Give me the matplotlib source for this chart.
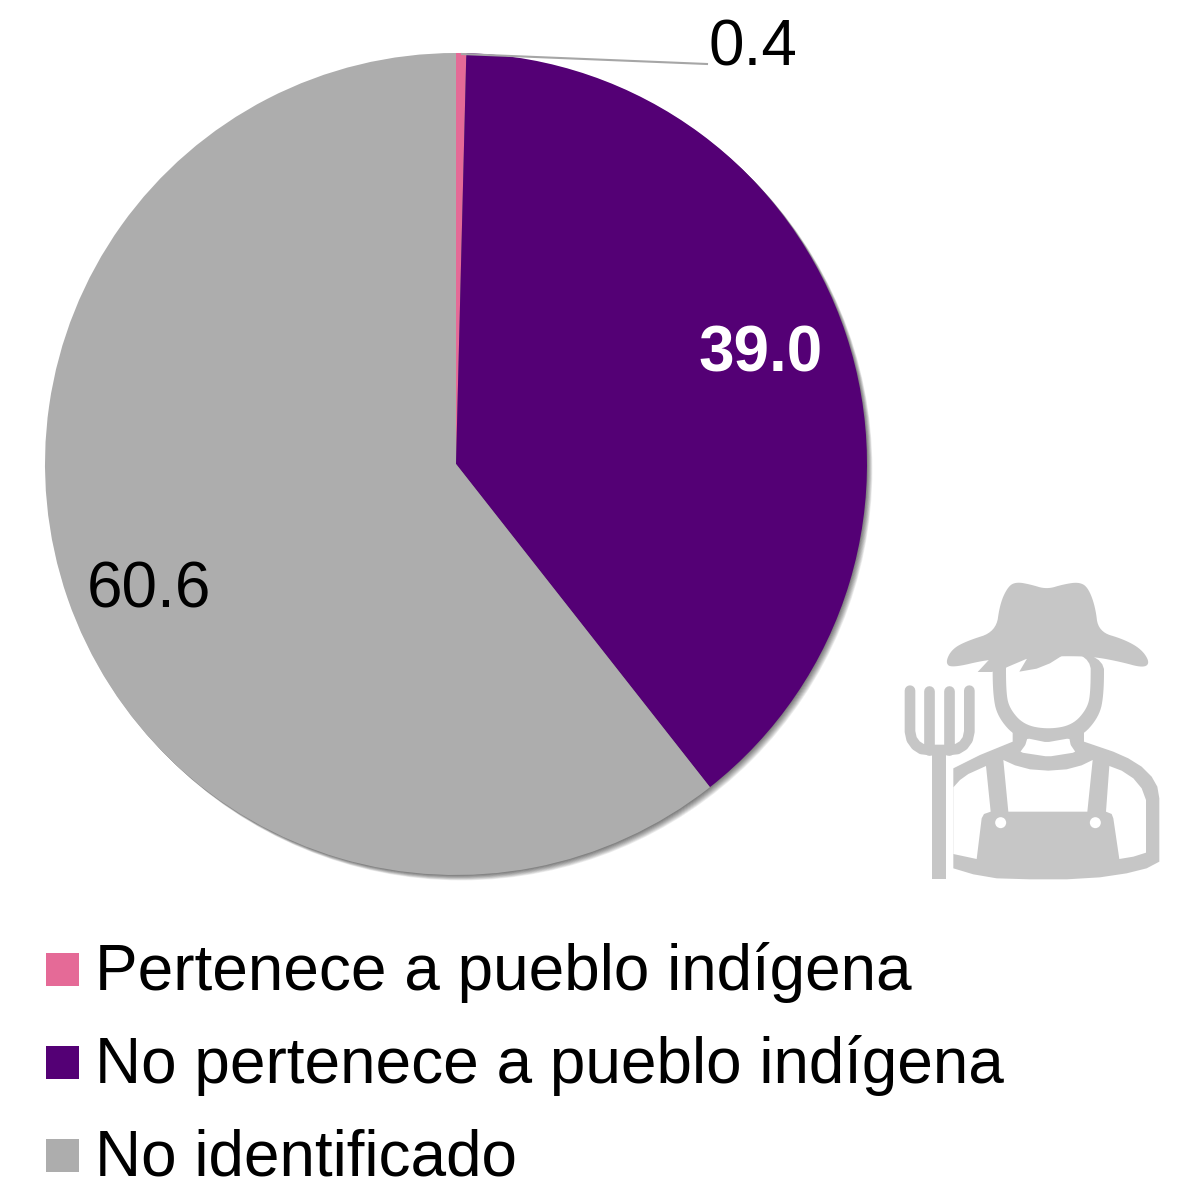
import matplotlib
matplotlib.use('Agg')
import matplotlib.pyplot as plt
from matplotlib.patches import Circle, PathPatch, Polygon
from matplotlib.path import Path

plt.rcParams['font.family'] = ['Liberation Sans', 'DejaVu Sans']

W, H = 1184, 1182

categories = ['Pertenece a pueblo indígena', 'No pertenece a pueblo indígena', 'No identificado']
values = [0.4, 39.0, 60.6]
value_labels = ['0.4', '39.0', '60.6']
colors = ['#E56A97', '#540075', '#ADADAD']
ICON = '#C6C6C6'

fig = plt.figure(figsize=(W / 100, H / 100), dpi=100, facecolor='white')
ax = fig.add_axes([0, 0, 1, 1])


def py(y):
    return H - y


cx, cy, radius = 456, py(464), 411

# soft shadow, lower right
for i in range(9):
    off = 0.6 + i * 0.6
    ax.add_patch(Circle((cx + off, cy - off), radius, fc='#000000', ec='none', alpha=0.07, zorder=1))

wedges, _ = ax.pie(values, colors=colors, startangle=90, counterclock=False, center=(cx, cy),
                   radius=radius, frame=True, wedgeprops={'edgecolor': 'none'})
for w in wedges:
    w.set_zorder(2)
ax.set_xlim(0, W)
ax.set_ylim(0, H)
ax.set_aspect('equal')
ax.axis('off')

# leader line of the small slice
ax.plot([462, 707], [py(54), py(64)], color='#A6A6A6', lw=1.5, zorder=3)

FS = 46
ax.text(753, py(65), value_labels[0], fontsize=FS, ha='center', va='baseline', color='black', zorder=4)
ax.text(761, py(372), value_labels[1], fontsize=FS, ha='center', va='baseline', color='white',
        fontweight='bold', zorder=4)
ax.text(149, py(608), value_labels[2], fontsize=FS, ha='center', va='baseline', color='black', zorder=4)

leg = ax.legend(wedges, categories, loc='upper left', bbox_to_anchor=(46 / W, 1 - 942 / H),
                bbox_transform=ax.transAxes, frameon=False, fontsize=FS, handlelength=0.516,
                handleheight=0.416, handletextpad=0.25, labelspacing=0.505, borderpad=0, borderaxespad=0)
for p in leg.get_patches():
    p.set_y(p.get_y() - 1.7)


def ic(points):
    return [(880 + x / 3, py(560 + y / 3)) for x, y in points]


def chaikin(points, n=2, cut=0.15):
    for _ in range(n):
        out = []
        for i in range(len(points)):
            a, b = points[i], points[(i + 1) % len(points)]
            out.append((a[0] * (1 - cut) + b[0] * cut, a[1] * (1 - cut) + b[1] * cut))
            out.append((a[0] * cut + b[0] * (1 - cut), a[1] * cut + b[1] * (1 - cut)))
        points = out
    return points


def shape(points, color=ICON, z=5, n=0, cut=0.25):
    pts = chaikin(ic(points), n, cut)
    ax.add_patch(Polygon(pts, closed=True, fc=color, ec='none', zorder=z))


def stroke(points, width):
    verts = ic(points)
    codes = [Path.MOVETO] + [Path.LINETO] * (len(verts) - 1)
    ax.add_patch(PathPatch(Path(verts, codes), fc='none', ec=ICON, lw=width / 3 * 0.72,
                           capstyle='round', joinstyle='round', zorder=5))


body = [(220, 625), (300, 585), (398, 545), (398, 500), (612, 500), (612, 545), (700, 575), (745, 595),
        (785, 620), (815, 650), (832, 680), (838, 715), (838, 905), (800, 925), (740, 940), (660, 952),
        (560, 958), (450, 958), (350, 955), (280, 943), (220, 925)]
shape(body)

# head: outer and inner outline, the top corners sit under the hat
head_out = [(338, 270), (338, 400), (352, 470), (410, 535), (505, 550), (600, 535), (658, 470), (672, 400),
            (672, 270)]
head_in = [(378, 270), (378, 395), (388, 445), (432, 495), (505, 508), (578, 495), (622, 445), (632, 395),
           (632, 270)]
shape(head_out, ICON, 5, 3)
shape(head_in, 'white', 6, 3)
neck = [(442, 535), (500, 547), (568, 535), (572, 555), (587, 577), (505, 590), (420, 577), (436, 555)]
shape(neck, 'white', 5.5, 1, 0.1)
chest = [(370, 600), (405, 616), (450, 628), (505, 632), (560, 628), (605, 616), (638, 600), (622, 755),
         (385, 755)]
shape(chest, 'white', 6)
left = [(220, 682), (240, 660), (265, 642), (318, 618), (332, 755), (312, 762), (305, 775), (290, 897),
        (220, 882)]
shape(left, 'white', 6)
right = [(688, 618), (725, 632), (760, 655), (785, 685), (798, 720), (798, 878), (760, 890), (718, 897),
         (700, 775), (695, 762), (678, 755)]
shape(right, 'white', 6)
for bx in [362, 646]:
    (x0, y0), = ic([(bx, 788)])
    ax.add_patch(Circle((x0, y0), 5.5, fc='white', ec='none', zorder=7))

hat = [(196, 308), (215, 268), (260, 243), (348, 215), (360, 130), (385, 78), (410, 66), (450, 73),
       (500, 88), (550, 73), (597, 66), (624, 82), (646, 140), (655, 215), (732, 238), (785, 268),
       (810, 308), (790, 324), (720, 305), (640, 290), (545, 288), (500, 292), (380, 300), (325, 298),
       (215, 324)]
shape(hat, ICON, 8, 3)
hair = [(330, 296), (293, 336), (335, 336), (380, 322), (441, 296), (418, 335), (470, 326), (510, 310),
        (548, 286), (450, 270)]
shape(hair, ICON, 8)

# pitchfork
for tx in [147, 207]:
    stroke([(tx, 392), (tx, 570)], 32)
fork = [(90, 392), (90, 515), (95, 538), (108, 556), (125, 567), (150, 570), (205, 570), (232, 567),
        (250, 556), (263, 538), (268, 515), (268, 392)]
stroke(fork, 32)
shape([(155, 570), (197, 570), (197, 957), (155, 957)])

fig.savefig('out.png', dpi=100, facecolor='white')
